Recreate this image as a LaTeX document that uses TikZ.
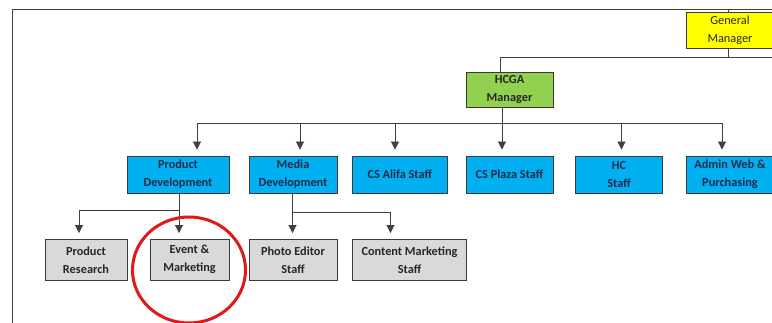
\documentclass[tikz,border=0pt]{standalone}
\usepackage{fontspec}
\setmainfont{Carlito}
\usetikzlibrary{arrows.meta,shapes.geometric}
\definecolor{cblue}{HTML}{00B0F0}
\definecolor{cgreen}{HTML}{92D050}
\definecolor{cyell}{HTML}{FFFF00}
\definecolor{cgray}{HTML}{D9D9D9}
\definecolor{cline}{HTML}{404040}
\definecolor{cborder}{HTML}{3A3A3A}
\definecolor{cnavy}{HTML}{1F2A4A}
\definecolor{cgtext}{HTML}{262626}
\definecolor{cred}{HTML}{E01818}
\begin{document}
\begin{tikzpicture}[x=1pt,y=-1pt,
  box/.style={draw=cborder,line width=0.9pt,align=center,inner sep=0pt,
    font=\fontsize{12.3}{18}\selectfont\bfseries},
  bluebox/.style={box,fill=cblue,text=cnavy,minimum height=37pt},
  graybox/.style={box,fill=cgray,text=cgtext,minimum height=40.5pt},
  conn/.style={draw=cline,line width=0.9pt},
  arr/.style={conn,-{Triangle[width=8pt,length=8pt]},shorten >=6pt}]
\clip (0,0) rectangle (772,323);
\fill[white] (0,0) rectangle (772,323);
% frame
\draw[draw=cline,line width=0.9pt] (12,330) -- (12,9) -- (780,9);
% nodes
\node[box,fill=cyell,text=cgtext,font=\fontsize{12.3}{18}\selectfont,minimum width=88pt,minimum height=36.5pt] (gm) at (730,30.25) {General\\Manager};
\node[box,fill=cgreen,text=cgtext,minimum width=87pt,minimum height=35pt] (hcga) at (509.5,89.5) {HCGA\\Manager};
\node[bluebox,minimum width=102pt] (pd) at (178,174.5) {Product\\Development};
\node[bluebox,minimum width=88pt] (md) at (293,174.5) {Media\\Development};
\node[bluebox,minimum width=94.5pt] (csa) at (399.75,174.5) {CS Alifa Staff};
\node[bluebox,minimum width=87pt] (csp) at (509.5,174.5) {CS Plaza Staff};
\node[bluebox,minimum width=87pt] (hc) at (619,174.5) {HC\\Staff};
\node[bluebox,minimum width=88pt] (adm) at (730,174.5) {Admin Web \&\\Purchasing};
\node[graybox,minimum width=82pt] (pr) at (86,259.75) {Product\\Research};
\node[graybox,minimum width=79pt] (em) at (189.5,259.75) {Event \&\\Marketing};
\node[graybox,minimum width=88pt] (pe) at (293,259.75) {Photo Editor\\Staff};
\node[graybox,minimum width=114pt] (cm) at (409.5,259.75) {Content Marketing\\Staff};
% coordinates
\coordinate (top) at (728,9);
\coordinate (j1) at (728,57);
\coordinate (jl) at (500.5,57);
\coordinate (jr) at (780,57);
\coordinate (bus) at (502,123);
\coordinate (b1) at (197,123);
\coordinate (b2) at (300,123);
\coordinate (b3) at (395,123);
\coordinate (b4) at (502,123);
\coordinate (b5) at (621.5,123);
\coordinate (b6) at (722,123);
\coordinate (p1) at (179,210);
\coordinate (p2) at (79,210);
\coordinate (m1) at (292.5,212);
\coordinate (m2) at (390.5,212);
% connectors
\draw[conn] (top) -- (top |- gm.north);
\draw[conn] (j1 |- gm.south) -- (j1);
\draw[conn] (jr) -- (jl) -- (jl |- hcga.north);
\draw[conn] (bus |- hcga.south) -- (bus);
\draw[conn] (b1) -- (b6);
\draw[arr] (b1) -- (b1 |- pd.north);
\draw[arr] (b2) -- (b2 |- md.north);
\draw[arr] (b3) -- (b3 |- csa.north);
\draw[arr] (b4) -- (b4 |- csp.north);
\draw[arr] (b5) -- (b5 |- hc.north);
\draw[arr] (b6) -- (b6 |- adm.north);
\draw[conn] (p1 |- pd.south) -- (p1);
\draw[conn] (p1) -- (p2);
\draw[arr] (p1) -- (p1 |- em.north);
\draw[arr] (p2) -- (p2 |- pr.north);
\draw[arr] (m1 |- md.south) -- (m1 |- pe.north);
\draw[conn] (m1) -- (m2);
\draw[arr] (m2) -- (m2 |- cm.north);
% highlight circle
\node[draw=cred,line width=3pt,ellipse,minimum width=113pt,minimum height=106pt,inner sep=0pt] (hl) at (189,270) {};
\end{tikzpicture}
\end{document}
